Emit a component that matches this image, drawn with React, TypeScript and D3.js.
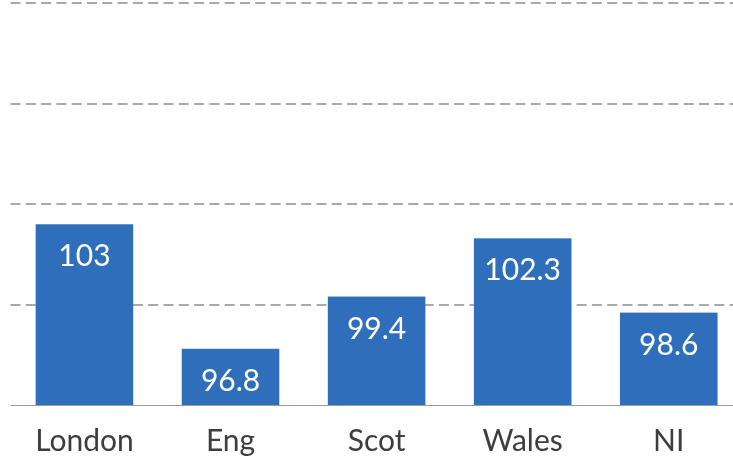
import { useEffect, useRef } from "react";
import * as d3 from "d3";

// Regions and their index values
const regions = ["London", "Eng", "Scot", "Wales", "NI"];
const values = [103, 96.8, 99.4, 102.3, 98.6];
const valueLabels = ["103", "96.8", "99.4", "102.3", "98.6"];
const gridTicks = [99, 104, 109, 114];

const WIDTH = 733;
const HEIGHT = 460;

export default function App() {
  const svgRef = useRef<SVGSVGElement | null>(null);

  useEffect(() => {
    if (!svgRef.current) return;
    const svg = d3.select(svgRef.current);
    svg.selectAll("*").remove();

    const x = d3
      .scaleBand<string>()
      .domain(regions)
      .range([11.4, 741.8])
      .paddingInner(0.332)
      .paddingOuter(0.166);
    const y = d3.scaleLinear().domain([94, 114]).range([405, 3.4]);

    const font = "Lato, 'Open Sans', sans-serif";

    // dashed gridlines (snapped to whole pixels so the 2px dashes stay crisp)
    svg
      .append("g")
      .selectAll("line")
      .data(gridTicks)
      .enter()
      .append("line")
      .attr("x1", 10.5)
      .attr("x2", WIDTH)
      .attr("y1", (d) => Math.round(y(d)))
      .attr("y2", (d) => Math.round(y(d)))
      .attr("stroke", "#a9a9a9")
      .attr("stroke-width", 2)
      .attr("stroke-dasharray", "10,5.3");

    // bars
    svg
      .append("g")
      .selectAll("rect")
      .data(values)
      .enter()
      .append("rect")
      .attr("x", (_, i) => x(regions[i])!)
      .attr("y", (d) => y(d))
      .attr("width", x.bandwidth())
      .attr("height", (d) => y(94) - y(d))
      .attr("fill", "#2e6eba");

    // baseline
    svg
      .append("line")
      .attr("x1", 10.5)
      .attr("x2", WIDTH)
      .attr("y1", y(94) + 0.5)
      .attr("y2", y(94) + 0.5)
      .attr("stroke", "#9a9a9a")
      .attr("stroke-width", 1.2);

    // value labels inside bars
    svg
      .append("g")
      .selectAll("text")
      .data(values)
      .enter()
      .append("text")
      .attr("x", (_, i) => x(regions[i])! + x.bandwidth() / 2)
      .attr("y", (d) => y(d) + 42)
      .attr("text-anchor", "middle")
      .attr("fill", "#ffffff")
      .style("font-family", font)
      .style("font-size", "30px")
      .text((_, i) => valueLabels[i]);

    // category labels
    svg
      .append("g")
      .selectAll("text")
      .data(regions)
      .enter()
      .append("text")
      .attr("x", (d) => x(d)! + x.bandwidth() / 2)
      .attr("y", 451)
      .attr("text-anchor", "middle")
      .attr("fill", "#3d3d3d")
      .style("font-family", font)
      .style("font-size", "30px")
      .text((d) => d);
  }, []);

  return (
    <div style={{ position: "fixed", left: 0, top: 0 }}>
      <svg ref={svgRef} width={WIDTH} height={HEIGHT} style={{ display: "block" }} />
    </div>
  );
}
